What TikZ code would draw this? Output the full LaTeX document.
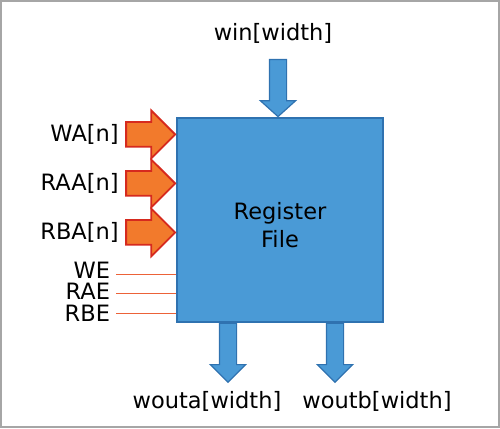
\documentclass[tikz,border=0pt]{standalone}
\usepackage{fontspec}
\setmainfont{DejaVu Sans}
\usetikzlibrary{shapes.arrows,positioning}
\definecolor{fileblue}{HTML}{4A9AD6}
\definecolor{fileedge}{HTML}{2F72B0}
\definecolor{addrorange}{HTML}{F27A2C}
\definecolor{addrred}{HTML}{D62A1E}
\definecolor{ctrlline}{HTML}{EC6238}
\definecolor{framegray}{HTML}{A6A6A6}

\begin{document}
\begin{tikzpicture}[
    x=1pt, y=-1pt,
    font=\fontsize{22.5}{28}\selectfont,
    busarrow/.style={
      single arrow, draw=fileedge, fill=fileblue, line width=1.2pt,
      inner sep=8pt, minimum width=0pt, single arrow head extend=9pt,
      single arrow tip angle=90, shape border rotate=270
    },
    addrarrow/.style={
      single arrow, draw=addrred, fill=addrorange, line width=1.8pt,
      inner sep=11.5pt, minimum width=0pt, single arrow head extend=11.5pt,
      minimum height=49pt, anchor=tip
    },
    ctrl/.style={draw=ctrlline, line width=0.9pt}
  ]
  \useasboundingbox (0,0) rectangle (500,428);
  \draw[framegray, line width=2pt] (1,1) rectangle (499,427);

  \node[
    draw=fileedge,
    fill=fileblue,
    line width=1.2pt,
    minimum width=206pt,
    minimum height=204pt
  ] (rf) at (280,220) {};
  \node[align=center] (rftext) at ([yshift=-5.5pt]rf.center) {Register\\File};

  \node[busarrow, single arrow tip angle=96, minimum height=57pt, anchor=tip] (winarr) at ([xshift=-2pt]rf.north) {};
  \node (win) at (273,33) {win[width]};

  \node[busarrow, minimum height=59pt, anchor=tail] (outa) at ([xshift=-52pt]rf.south) {};
  \node[busarrow, minimum height=59pt, anchor=tail] (outb) at ([xshift=55pt]rf.south) {};
  \node (wouta) at (207,401) {wouta[width]};
  \node (woutb) at (377,401) {woutb[width]};

  \node[addrarrow] (waarr) at ([yshift=-17pt]rf.north west) {};
  \node[addrarrow] (raaarr) at ([yshift=-66pt]rf.north west) {};
  \node[addrarrow] (rbaarr) at ([yshift=-115pt]rf.north west) {};
  \node[left=3pt of waarr.tail] (wa) {WA[n]};
  \node[left=3pt of raaarr.tail] (raa) {RAA[n]};
  \node[left=3pt of rbaarr.tail] (rba) {RBA[n]};

  \node[anchor=east] (we) at (113.5,270) {WE};
  \node[anchor=east] (rae) at (113.5,291.5) {RAE};
  \node[anchor=east] (rbe) at (113.5,313.5) {RBE};
  \coordinate (wein) at (116,274);
  \coordinate (raein) at (116,293);
  \coordinate (rbein) at (116,313);
  \draw[ctrl] (wein) -- (wein -| rf.west);
  \draw[ctrl] (raein) -- (raein -| rf.west);
  \draw[ctrl] (rbein) -- (rbein -| rf.west);
\end{tikzpicture}
\end{document}
